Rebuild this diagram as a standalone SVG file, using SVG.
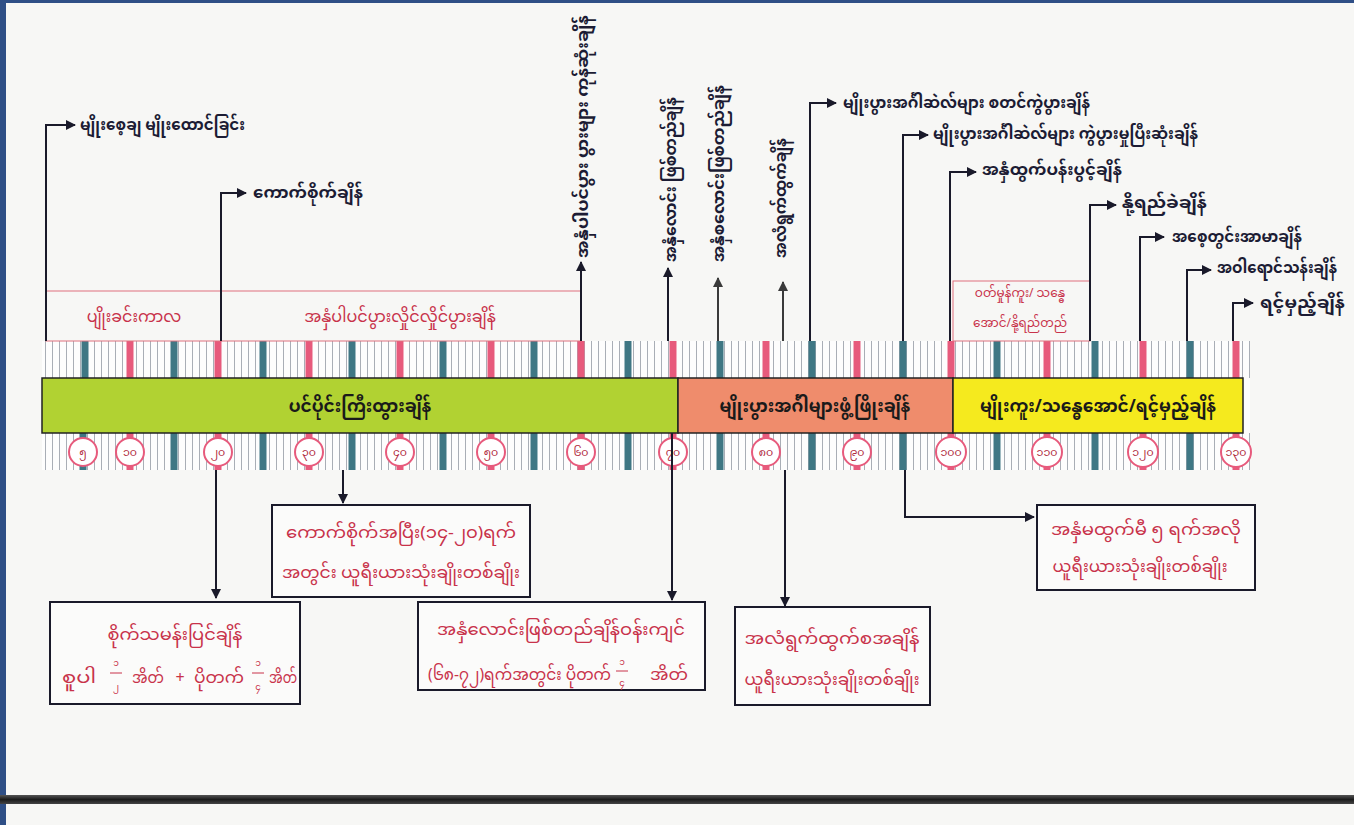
<svg xmlns="http://www.w3.org/2000/svg" width="1354" height="825" viewBox="0 0 1354 825">
<style>
.lbl{font-family:"Noto Sans Myanmar","Padauk","Myanmar Text","Noto Sans",sans-serif;font-size:16px;fill:#1c1c34;font-weight:bold}
.red{font-family:"Noto Sans Myanmar","Padauk","Myanmar Text","Noto Sans",sans-serif;font-size:16px;fill:#c8324a}
.frac{font-family:"Noto Sans Myanmar","Padauk","Myanmar Text","Noto Sans",sans-serif;font-size:9px;fill:#c8324a;text-anchor:middle}
.num{font-family:"Noto Sans Myanmar","Padauk","Myanmar Text","Noto Sans",sans-serif;font-size:11px;fill:#b0283c;text-anchor:middle}
.band{font-family:"Noto Sans Myanmar","Padauk","Myanmar Text","Noto Sans",sans-serif;font-size:17px;fill:#1a1a1a;font-weight:bold;text-anchor:middle}
.con{fill:none;stroke:#1a1a2a;stroke-width:2}
.gcon{fill:none;stroke:#3a3a3a;stroke-width:2}
.box{fill:#fbfbfa;stroke:#1a1a2a;stroke-width:2}
.pbox{fill:none;stroke:#e0707e;stroke-width:1}
.teal{stroke:#3f7784;stroke-width:7}
.pink{stroke:#e75a7c;stroke-width:7}
.circ{fill:#fff;stroke:#e75a7c;stroke-width:2}
</style>
<defs>
<marker id="ah" viewBox="0 0 10 10" refX="9" refY="5" markerWidth="5" markerHeight="5" orient="auto"><path d="M0,0 L10,5 L0,10 z" fill="#1a1a2a"/></marker>
<marker id="ahg" viewBox="0 0 10 10" refX="9" refY="5" markerWidth="5" markerHeight="5" orient="auto"><path d="M0,0 L10,5 L0,10 z" fill="#3a3a3a"/></marker>
<pattern id="thin" width="7" height="40" patternUnits="userSpaceOnUse"><line x1="3.5" y1="0" x2="3.5" y2="40" stroke="#a9aeb6" stroke-width="1"/></pattern>
<linearGradient id="bar" x1="0" y1="0" x2="0" y2="1"><stop offset="0" stop-color="#555"/><stop offset="0.5" stop-color="#1c1c1c"/><stop offset="1" stop-color="#444"/></linearGradient>
</defs>
<rect width="1354" height="825" fill="#f7f7f5"/>
<rect x="0" y="0" width="1354" height="3" fill="#2f4f86"/>
<rect x="0" y="0" width="6" height="825" fill="#2f4f86"/>
<rect x="0" y="795" width="1354" height="9" fill="url(#bar)"/>

<!-- timeline strip -->
<g id="strip">
<rect x="42" y="341" width="1208" height="129" fill="#fdfdfd"/>
<rect x="42" y="341" width="1208" height="37" fill="url(#thin)"/>
<rect x="42" y="433" width="1208" height="37" fill="url(#thin)"/>
<g class="teal">
<line x1="85" y1="341" x2="85" y2="378"/><line x1="174" y1="341" x2="174" y2="378"/><line x1="263" y1="341" x2="263" y2="378"/><line x1="352" y1="341" x2="352" y2="378"/><line x1="443" y1="341" x2="443" y2="378"/><line x1="534" y1="341" x2="534" y2="378"/><line x1="628" y1="341" x2="628" y2="378"/><line x1="720" y1="341" x2="720" y2="378"/><line x1="812" y1="341" x2="812" y2="378"/><line x1="903" y1="341" x2="903" y2="378"/><line x1="997" y1="341" x2="997" y2="378"/><line x1="1095" y1="341" x2="1095" y2="378"/><line x1="1190" y1="341" x2="1190" y2="378"/>
<line x1="83" y1="433" x2="83" y2="470"/><line x1="174" y1="433" x2="174" y2="470"/><line x1="263" y1="433" x2="263" y2="470"/><line x1="352" y1="433" x2="352" y2="470"/><line x1="443" y1="433" x2="443" y2="470"/><line x1="534" y1="433" x2="534" y2="470"/><line x1="628" y1="433" x2="628" y2="470"/><line x1="720" y1="433" x2="720" y2="470"/><line x1="812" y1="433" x2="812" y2="470"/><line x1="903" y1="433" x2="903" y2="470"/><line x1="997" y1="433" x2="997" y2="470"/><line x1="1095" y1="433" x2="1095" y2="470"/><line x1="1190" y1="433" x2="1190" y2="470"/>
</g>
<g class="pink">
<line x1="130" y1="341" x2="130" y2="378"/><line x1="218" y1="341" x2="218" y2="378"/><line x1="309" y1="341" x2="309" y2="378"/><line x1="400" y1="341" x2="400" y2="378"/><line x1="491" y1="341" x2="491" y2="378"/><line x1="581" y1="341" x2="581" y2="378"/><line x1="673" y1="341" x2="673" y2="378"/><line x1="766" y1="341" x2="766" y2="378"/><line x1="857" y1="341" x2="857" y2="378"/><line x1="951" y1="341" x2="951" y2="378"/><line x1="1047" y1="341" x2="1047" y2="378"/><line x1="1143" y1="341" x2="1143" y2="378"/><line x1="1236" y1="341" x2="1236" y2="378"/>
<line x1="130" y1="433" x2="130" y2="470"/><line x1="218" y1="433" x2="218" y2="470"/><line x1="309" y1="433" x2="309" y2="470"/><line x1="400" y1="433" x2="400" y2="470"/><line x1="491" y1="433" x2="491" y2="470"/><line x1="581" y1="433" x2="581" y2="470"/><line x1="673" y1="433" x2="673" y2="470"/><line x1="766" y1="433" x2="766" y2="470"/><line x1="857" y1="433" x2="857" y2="470"/><line x1="951" y1="433" x2="951" y2="470"/><line x1="1047" y1="433" x2="1047" y2="470"/><line x1="1143" y1="433" x2="1143" y2="470"/><line x1="1236" y1="433" x2="1236" y2="470"/>
</g>
</g>

<!-- bands -->
<g id="band-vegetative"><rect x="42" y="378" width="636" height="55" fill="#b1d232" stroke="#222" stroke-width="1.5"/><text class="band" x="360" y="412">ပင်ပိုင်းကြီးထွားချိန်</text></g>
<g id="band-reproductive"><rect x="678" y="378" width="275" height="55" fill="#ef8c6c" stroke="#222" stroke-width="1.5"/><text class="band" x="815" y="412">မျိုးပွားအင်္ဂါများဖွံ့ဖြိုးချိန်</text></g>
<g id="band-ripening"><rect x="953" y="378" width="290" height="55" fill="#f5ea1e" stroke="#222" stroke-width="1.5"/><text class="band" x="1098" y="412">မျိုးကူး/သန္ဓေအောင်/ရင့်မှည့်ချိန်</text></g>

<!-- day circles -->
<g id="days">
<circle class="circ" cx="83" cy="452" r="14"/><text class="num" x="83" y="456">၅</text>
<circle class="circ" cx="130" cy="452" r="14"/><text class="num" x="130" y="456">၁၀</text>
<circle class="circ" cx="218" cy="452" r="14"/><text class="num" x="218" y="456">၂၀</text>
<circle class="circ" cx="309" cy="452" r="14"/><text class="num" x="309" y="456">၃၀</text>
<circle class="circ" cx="400" cy="452" r="14"/><text class="num" x="400" y="456">၄၀</text>
<circle class="circ" cx="491" cy="452" r="14"/><text class="num" x="491" y="456">၅၀</text>
<circle class="circ" cx="581" cy="452" r="14"/><text class="num" x="581" y="456">၆၀</text>
<circle class="circ" cx="673" cy="452" r="14"/><text class="num" x="673" y="456">၇၀</text>
<circle class="circ" cx="766" cy="452" r="14"/><text class="num" x="766" y="456">၈၀</text>
<circle class="circ" cx="857" cy="452" r="14"/><text class="num" x="857" y="456">၉၀</text>
<circle class="circ" cx="951" cy="452" r="15"/><text class="num" x="951" y="456">၁၀၀</text>
<circle class="circ" cx="1047" cy="452" r="15"/><text class="num" x="1047" y="456">၁၁၀</text>
<circle class="circ" cx="1143" cy="452" r="15"/><text class="num" x="1143" y="456">၁၂၀</text>
<circle class="circ" cx="1236" cy="452" r="15"/><text class="num" x="1236" y="456">၁၃၀</text>
</g>

<!-- period boxes -->
<g id="period-nursery"><rect class="pbox" x="46" y="291" width="175" height="50"/><text class="red" x="134" y="322" text-anchor="middle">ပျိုးခင်းကာလ</text></g>
<g id="period-tillering"><rect class="pbox" x="221" y="291" width="360" height="50"/><text class="red" x="400" y="322" text-anchor="middle">အနှံပါပင်ပွားလှိုင်လှိုင်ပွားချိန်</text></g>
<g id="period-pollination"><rect class="pbox" x="953" y="281" width="137" height="60"/><text class="red" x="1020" y="297" text-anchor="middle" style="font-size:12px">ဝတ်မှုန်ကူး/ သန္ဓေ</text><text class="red" x="1020" y="327" text-anchor="middle" style="font-size:12px">အောင်/နို့ရည်တည်</text></g>

<!-- connectors -->
<g id="connectors">
<path class="con" d="M46,341 V125 H75" marker-end="url(#ah)"/>
<path class="con" d="M221,341 V193 H246" marker-end="url(#ah)"/>
<path class="con" d="M581,341 V262" marker-end="url(#ah)"/>
<path class="con" d="M668,341 V268" marker-end="url(#ah)"/>
<path class="gcon" d="M718,341 V278" marker-end="url(#ahg)"/>
<path class="gcon" d="M783,341 V282" marker-end="url(#ahg)"/>
<path class="con" d="M810,341 V103 H836" marker-end="url(#ah)"/>
<path class="con" d="M903,341 V135 H928" marker-end="url(#ah)"/>
<path class="con" d="M950,341 V172 H976" marker-end="url(#ah)"/>
<path class="con" d="M1090,341 V205 H1116" marker-end="url(#ah)"/>
<path class="con" d="M1140,341 V237 H1164" marker-end="url(#ah)"/>
<path class="con" d="M1187,341 V270 H1211" marker-end="url(#ah)"/>
<path class="con" d="M1233,341 V303 H1253" marker-end="url(#ah)"/>
<path class="con" d="M216,470 V598" marker-end="url(#ah)"/>
<path class="con" d="M343,470 V503" marker-end="url(#ah)"/>
<path class="con" d="M672,433 V600" marker-end="url(#ah)"/>
<path class="con" d="M785,470 V606" marker-end="url(#ah)"/>
<path class="con" d="M905,470 V517 H1034" marker-end="url(#ah)"/>
</g>

<!-- top labels -->
<g id="lbl-sowing"><text class="lbl" x="80" y="130" textLength="165" lengthAdjust="spacingAndGlyphs">မျိုးစေ့ချ မျိုးထောင်ခြင်း</text></g>
<g id="lbl-transplant"><text class="lbl" x="253" y="198" textLength="110" lengthAdjust="spacingAndGlyphs">ကောက်စိုက်ချိန်</text></g>
<g id="lbl-tiller-end"><text class="lbl" transform="translate(588,258) rotate(-90)" textLength="243" lengthAdjust="spacingAndGlyphs">အနှံပါပင်ပွား ပွားများ ကုန်ဆုံးချိန်</text></g>
<g id="lbl-panicle"><text class="lbl" transform="translate(676,262) rotate(-90)" textLength="165" lengthAdjust="spacingAndGlyphs">အနှံလောင်း ဖြစ်တည်ချိန်</text></g>
<g id="lbl-panicle2"><text class="lbl" transform="translate(724,262) rotate(-90)" textLength="177" lengthAdjust="spacingAndGlyphs">အနှံစလောင်းဖြစ်တည်ချိန်</text></g>
<g id="lbl-flagleaf"><text class="lbl" transform="translate(786,258) rotate(-90)" textLength="120" lengthAdjust="spacingAndGlyphs">အလံရွက်ထွက်ချိန်</text></g>
<g id="lbl-cell-start"><text class="lbl" x="843" y="108" textLength="247" lengthAdjust="spacingAndGlyphs">မျိုးပွားအင်္ဂါဆဲလ်များ စတင်ကွဲပွားချိန်</text></g>
<g id="lbl-cell-end"><text class="lbl" x="933" y="139" textLength="265" lengthAdjust="spacingAndGlyphs">မျိုးပွားအင်္ဂါဆဲလ်များ ကွဲပွားမှုပြီးဆုံးချိန်</text></g>
<g id="lbl-heading"><text class="lbl" x="982" y="175" textLength="140" lengthAdjust="spacingAndGlyphs">အနှံထွက်ပန်းပွင့်ချိန်</text></g>
<g id="lbl-milk"><text class="lbl" x="1122" y="208" textLength="85" lengthAdjust="spacingAndGlyphs">နို့ရည်ခဲချိန်</text></g>
<g id="lbl-dough"><text class="lbl" x="1172" y="242" textLength="130" lengthAdjust="spacingAndGlyphs">အစေ့တွင်းအာမာချိန်</text></g>
<g id="lbl-yellow"><text class="lbl" x="1217" y="273" textLength="120" lengthAdjust="spacingAndGlyphs">အဝါရောင်သန်းချိန်</text></g>
<g id="lbl-mature"><text class="lbl" x="1260" y="308" textLength="85" lengthAdjust="spacingAndGlyphs">ရင့်မှည့်ချိန်</text></g>

<!-- fertilizer boxes -->
<g id="box-basal"><rect class="box" x="50" y="602" width="250" height="102"/>
<text class="red" x="175" y="640" text-anchor="middle" textLength="135" lengthAdjust="spacingAndGlyphs">စိုက်သမန်းပြင်ချိန်</text>
<text class="red" x="62" y="683" textLength="34" lengthAdjust="spacingAndGlyphs">စူပါ</text>
<text class="frac" x="116" y="666">၁</text><line x1="110" y1="673" x2="122" y2="673" stroke="#c8324a" stroke-width="1"/><text class="frac" x="116" y="690">၂</text>
<text class="red" x="132" y="683" textLength="32" lengthAdjust="spacingAndGlyphs">အိတ်</text>
<text class="red" x="180" y="683" text-anchor="middle">+</text>
<text class="red" x="194" y="683" textLength="50" lengthAdjust="spacingAndGlyphs">ပိုတက်</text>
<text class="frac" x="258" y="666">၁</text><line x1="252" y1="673" x2="264" y2="673" stroke="#c8324a" stroke-width="1"/><text class="frac" x="258" y="690">၄</text>
<text class="red" x="269" y="683" textLength="28" lengthAdjust="spacingAndGlyphs">အိတ်</text>
</g>
<g id="box-urea1"><rect class="box" x="272" y="505" width="258" height="92"/>
<text class="red" x="401" y="538" text-anchor="middle" textLength="230" lengthAdjust="spacingAndGlyphs">ကောက်စိုက်အပြီး(၁၄-၂၀)ရက်</text>
<text class="red" x="401" y="578" text-anchor="middle" textLength="238" lengthAdjust="spacingAndGlyphs">အတွင်း ယူရီးယားသုံးချိုးတစ်ချိုး</text>
</g>
<g id="box-potash"><rect class="box" x="418" y="602" width="287" height="88"/>
<text class="red" x="561" y="635" text-anchor="middle" textLength="248" lengthAdjust="spacingAndGlyphs">အနှံလောင်းဖြစ်တည်ချိန်ဝန်းကျင်</text>
<text class="red" x="428" y="680" textLength="183" lengthAdjust="spacingAndGlyphs">(၆၈-၇၂)ရက်အတွင်း ပိုတက်</text>
<text class="frac" x="622" y="665">၁</text><line x1="616" y1="671" x2="628" y2="671" stroke="#c8324a" stroke-width="1"/><text class="frac" x="622" y="686">၄</text>
<text class="red" x="650" y="680" textLength="38" lengthAdjust="spacingAndGlyphs">အိတ်</text>
</g>
<g id="box-urea2"><rect class="box" x="735" y="607" width="195" height="98"/>
<text class="red" x="832" y="644" text-anchor="middle" textLength="175" lengthAdjust="spacingAndGlyphs">အလံရွက်ထွက်စအချိန်</text>
<text class="red" x="832" y="685" text-anchor="middle" textLength="175" lengthAdjust="spacingAndGlyphs">ယူရီးယားသုံးချိုးတစ်ချိုး</text>
</g>
<g id="box-urea3"><rect class="box" x="1037" y="505" width="218" height="85"/>
<text class="red" x="1146" y="535" text-anchor="middle" textLength="190" lengthAdjust="spacingAndGlyphs">အနှံမထွက်မီ ၅ ရက်အလို</text>
<text class="red" x="1140" y="572" text-anchor="middle" textLength="175" lengthAdjust="spacingAndGlyphs">ယူရီးယားသုံးချိုးတစ်ချိုး</text>
</g>
</svg>
